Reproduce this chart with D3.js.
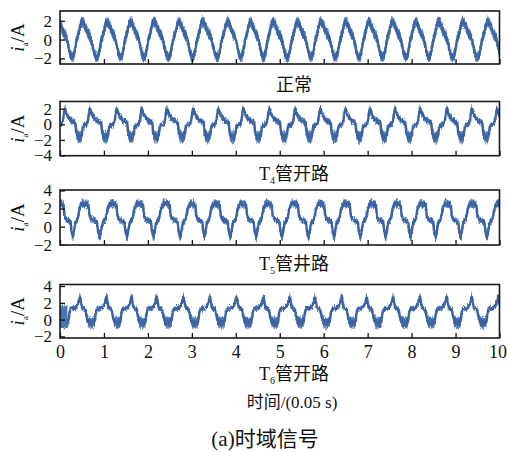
<!DOCTYPE html>
<html><head><meta charset="utf-8">
<script src="https://cdn.jsdelivr.net/npm/d3@7"></script>
<style>body{margin:0;background:#fff;} svg{display:block;}</style>
</head><body><svg id="c" width="507" height="452"></svg>
<script>
// ---------- data ----------
const xTicks = [0,1,2,3,4,5,6,7,8,9,10];

const panelLabelMain = ["正常", "T", "T", "T"];
const panelLabelSub  = ["", "4", "5", "6"];
const panelLabelRest = ["", "管开路", "管井路", "管开路"];

const yTicksNormal = [-2, 0, 2];
const yTicksT4 = [-4, -2, 0, 2];
const yTicksT5 = [-2, 0, 2, 4];
const yTicksT6 = [-2, 0, 2, 4];

// cycle reference times (peak / plateau start) in units of 0.05 s, and one cycle's shape
const normalPeaks = [-0.05,0.49,1.06,1.59,2.12,2.69,3.23,3.80,4.32,4.83,5.39,5.92,6.49,7.01,7.55,8.08,8.60,9.15,9.72,10.27];
const normalPhase = [0,0.08,0.16,0.26,0.34,0.42,0.52,0.6,0.68,0.76,0.82,0.88,0.94];
const normalMid   = [1.9,1.8,1.3,0.6,0.4,-0.4,-1.6,-1.9,-1.7,-0.5,0.3,0.6,1.5];
const normalSpread= [0.55,0.6,0.6,0.6,0.6,0.6,0.6,0.55,0.55,0.6,0.6,0.6,0.6];

const t4Peaks  = [-0.46,0.11,0.68,1.29,1.86,2.43,3.03,3.60,4.17,4.76,5.35,5.92,6.49,7.05,7.62,8.19,8.80,9.37,9.94,10.51];
const t4Phase  = [0,0.04,0.12,0.25,0.42,0.46,0.52,0.62,0.68,0.72,0.8,0.88,0.93,0.97];
const t4Mid    = [2.1,1.6,1.0,0.5,0.2,-1.2,-1.6,-1.7,-1.4,-0.3,-0.1,0.0,0.6,1.5];
const t4Spread = [0.45,0.5,0.45,0.4,0.4,0.7,0.8,0.8,0.75,0.45,0.35,0.35,0.45,0.5];

const t5Peaks  = [-0.08,0.455,1.10,1.71,2.31,2.92,3.45,4.06,4.64,5.23,5.84,6.41,7.02,7.58,8.15,8.72,9.29,9.90,10.49];
const t5Phase  = [0,0.08,0.2,0.3,0.34,0.4,0.5,0.6,0.64,0.7,0.75,0.8,0.88,0.93,0.97];
const t5Mid    = [2.2,2.6,2.5,2.4,1.2,0.8,0.7,0.5,-0.6,-1.1,-0.4,0.5,0.7,1.2,1.9];
const t5Spread = [0.45,0.45,0.45,0.45,0.4,0.35,0.35,0.35,0.6,0.6,0.5,0.35,0.35,0.4,0.45];

const t6Peaks  = [-0.14,0.455,1.06,1.63,2.20,2.81,3.41,4.02,4.63,5.23,5.80,6.41,6.98,7.58,8.19,8.80,9.37,9.97,10.57];
const t6Phase  = [0,0.04,0.08,0.2,0.26,0.32,0.45,0.55,0.6,0.65,0.8,0.88,0.94,0.97];
const t6Mid    = [2.8,2.0,1.4,1.2,0.2,-0.3,-0.4,-0.3,0.9,1.3,1.35,1.6,2.0,2.4];
const t6Spread = [0.45,0.45,0.35,0.3,0.55,0.7,0.7,0.65,0.4,0.3,0.3,0.3,0.35,0.4];
// start-up block at the beginning of the T6 record
const t6StartT  = [0.0, 0.17];
const t6StartLo = [-1.0, -1.0];
const t6StartHi = [1.7, 1.7];

const xLabel = "时间/(0.05 s)";
const caption = "(a)时域信号";

// ---------- layout ----------
const svg = d3.select("#c");
const X0 = 60, X1 = 499.5;
const x = d3.scaleLinear().domain([0, 10]).range([X0, X1]);

const defs = svg.append("defs");
// texture: vertical-only jitter of the band edges
const filt = defs.append("filter").attr("id", "fuzz")
  .attr("x", "-1%").attr("y", "-30%").attr("width", "102%").attr("height", "160%");
filt.append("feTurbulence").attr("type", "fractalNoise").attr("baseFrequency", "1.1 0.35")
  .attr("numOctaves", 2).attr("seed", 4).attr("result", "n");
filt.append("feColorMatrix").attr("in", "n").attr("type", "matrix")
  .attr("values", "0 0 0 0 0.5  0 1 0 0 0  0 0 1 0 0  0 0 0 0 1").attr("result", "n2");
filt.append("feDisplacementMap").attr("in", "SourceGraphic").attr("in2", "n2")
  .attr("scale", 6).attr("xChannelSelector", "R").attr("yChannelSelector", "G");

const panels = [
  {top: 11,    bottom: 64,    dom: [-2.6, 3.04],  ticks: yTicksNormal, peaks: normalPeaks, phase: normalPhase, mid: normalMid, spread: normalSpread, labelY: 90.5},
  {top: 101.5, bottom: 155.7, dom: [-4.02, 2.93], ticks: yTicksT4, peaks: t4Peaks, phase: t4Phase, mid: t4Mid, spread: t4Spread, labelY: 180},
  {top: 190,   bottom: 245,   dom: [-2.03, 4.05], ticks: yTicksT5, peaks: t5Peaks, phase: t5Phase, mid: t5Mid, spread: t5Spread, labelY: 270},
  {top: 284.5, bottom: 338,   dom: [-2.19, 4.18], ticks: yTicksT6, peaks: t6Peaks, phase: t6Phase, mid: t6Mid, spread: t6Spread, labelY: 380}
];

const FONT = "'Liberation Serif','Times New Roman','Noto Sans CJK SC',serif";
const CJK = "'Liberation Serif','Noto Sans CJK SC',serif";

function buildSeries(peaks, phase, mid, spread) {
  const pts = [];
  for (let i = 0; i < peaks.length; i++) {
    const len = i < peaks.length - 1 ? peaks[i+1] - peaks[i] : peaks[i] - peaks[i-1];
    phase.forEach((f, k) => pts.push({t: peaks[i] + f * len, m: mid[k], s: spread[k]}));
  }
  return pts;
}

panels.forEach((p, i) => {
  const y = d3.scaleLinear().domain(p.dom).range([p.bottom, p.top]);
  const g = svg.append("g");
  const clipId = "clip" + i;
  defs.append("clipPath").attr("id", clipId).append("rect")
    .attr("x", X0).attr("y", p.top).attr("width", X1 - X0).attr("height", p.bottom - p.top);

  const series = buildSeries(p.peaks, p.phase, p.mid, p.spread);
  const plot = g.append("g").attr("clip-path", `url(#${clipId})`).append("g").attr("filter", "url(#fuzz)");

  const outer = d3.area().x(d => x(d.t)).y0(d => y(d.m - d.s)).y1(d => y(d.m + d.s));
  const inner = d3.area().x(d => x(d.t)).y0(d => y(d.m - d.s * 0.7)).y1(d => y(d.m + d.s * 0.7));
  plot.append("path").datum(series).attr("d", outer).attr("fill", "#6b90c4");
  plot.append("path").datum(series).attr("d", inner).attr("fill", "#3f6aa8");
  plot.append("path").datum(series)
    .attr("d", d3.line().x(d => x(d.t)).y(d => y(d.m)))
    .attr("fill", "none").attr("stroke", "#3a64a2").attr("stroke-width", 2.5);

  if (i === 3) {
    const start = t6StartT.map((t, k) => ({t, lo: t6StartLo[k], hi: t6StartHi[k]}));
    plot.append("path").datum(start)
      .attr("d", d3.area().x(d => x(d.t)).y0(d => y(d.lo)).y1(d => y(d.hi)))
      .attr("fill", "#4a74b0");
  }

  // axes
  const xa = g.append("g").attr("transform", `translate(0,${p.bottom})`)
    .call(d3.axisBottom(x).tickValues(xTicks).tickSize(-5).tickSizeOuter(0).tickPadding(7)
      .tickFormat(i === 3 ? d3.format("d") : () => ""));
  xa.select(".domain").remove();
  xa.selectAll("line").attr("stroke", "#111").attr("stroke-width", 1.3);
  xa.selectAll("text").attr("font-family", FONT).attr("font-size", 18).attr("fill", "#111");
  xa.selectAll("text").filter(d => d === 10).attr("dx", -2);

  const ya = g.append("g").attr("transform", `translate(${X0},0)`)
    .call(d3.axisLeft(y).tickValues(p.ticks).tickSize(-5).tickSizeOuter(0).tickPadding(8)
      .tickFormat(d3.format("d")));
  ya.select(".domain").remove();
  ya.selectAll("line").attr("stroke", "#111").attr("stroke-width", 1.3);
  ya.selectAll("text").attr("font-family", FONT).attr("font-size", 17).attr("fill", "#111");

  // frame
  g.append("rect").attr("x", X0).attr("y", p.top).attr("width", X1 - X0).attr("height", p.bottom - p.top)
    .attr("fill", "none").attr("stroke", "#1a1a1a").attr("stroke-width", 1.6);

  // y label  i_a/A
  const yl = g.append("text")
    .attr("transform", `translate(24,${(p.top + p.bottom) / 2}) rotate(-90)`)
    .attr("text-anchor", "middle").attr("font-family", FONT).attr("font-size", 19).attr("fill", "#111");
  yl.append("tspan").attr("font-style", "italic").text("i");
  yl.append("tspan").attr("font-size", 9).attr("dy", 4).text("a");
  yl.append("tspan").attr("dy", -4).text("/A");

  // panel caption
  const pl = g.append("text").attr("x", 294).attr("y", p.labelY).attr("text-anchor", "middle")
    .attr("font-family", CJK).attr("font-size", 18).attr("fill", "#111");
  pl.append("tspan").text(panelLabelMain[i]);
  if (panelLabelSub[i]) {
    pl.append("tspan").attr("font-size", 10).attr("dy", 4).text(panelLabelSub[i]);
    pl.append("tspan").attr("dy", -4).text(panelLabelRest[i]);
  }
});

svg.append("text").attr("x", 292).attr("y", 408).attr("text-anchor", "middle")
  .attr("font-family", CJK).attr("font-size", 17).attr("fill", "#111").text(xLabel);
svg.append("text").attr("x", 265).attr("y", 446).attr("text-anchor", "middle")
  .attr("font-family", CJK).attr("font-size", 21).attr("fill", "#111").text(caption);
</script></body></html>
